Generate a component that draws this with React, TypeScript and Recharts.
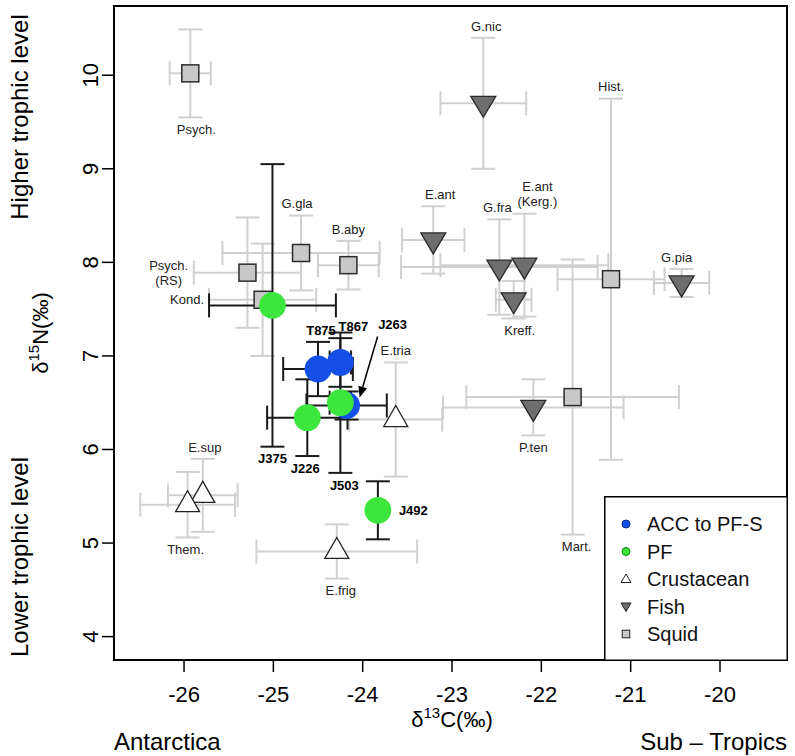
import React from "react";
import {
  ScatterChart,
  Scatter,
  XAxis,
  YAxis,
  ErrorBar,
  ReferenceArea,
  Legend,
} from "recharts";

const FONT = '"Liberation Sans", Arial, Helvetica, sans-serif';

// axis ticks
const xTicks = [-26, -25, -24, -23, -22, -21, -20];
const yTicks = [4, 5, 6, 7, 8, 9, 10];
const X_MIN = -26.784;
const X_MAX = -19.25;
const Y_MIN = 3.75;
const Y_MAX = 10.74;

// squid (mean ± error)
const squidNames = ["Psych.", "Psych.\n(RS)", "G.gla", "B.aby", "Kond.", "Hist.", "Mart."];
const squidX = [-25.93, -25.29, -24.69, -24.16, -25.12, -21.22, -21.65];
const squidY = [10.02, 7.89, 8.1, 7.97, 7.6, 7.82, 6.56];
const squidXErr = [0.23, 0.6, 0.88, 0.34, 0.6, 0.6, 1.19];
const squidYErr = [0.47, 0.59, 0.4, 0.26, 0.6, 1.93, 1.47];

// fish
const fishNames = ["G.nic", "E.ant", "G.fra", "E.ant\n(Kerg.)", "Kreff.", "G.pia", "P.ten"];
const fishX = [-22.65, -23.21, -22.47, -22.19, -22.31, -20.43, -22.09];
const fishY = [9.7, 8.24, 7.95, 7.97, 7.6, 7.78, 6.45];
const fishXErr = [0.48, 0.35, 1.1, 0.94, 0.2, 0.31, 1.01];
const fishYErr = [0.7, 0.36, 0.51, 0.55, 0.2, 0.15, 0.3];

// crustaceans
const crustNames = ["E.tria", "E.sup", "Them.", "E.frig"];
const crustX = [-23.63, -25.79, -25.96, -24.29];
const crustY = [6.32, 5.51, 5.41, 4.91];
const crustXErr = [0.52, 0.39, 0.53, 0.9];
const crustYErr = [0.61, 0.39, 0.35, 0.29];

// tracked birds, ACC to PF-S
const accNames = ["T875", "T867", "J263"];
const accX = [-24.5, -24.25, -24.18];
const accY = [6.86, 6.93, 6.47];
const accXErr = [0.39, 0.12, 0.45];
const accYErr = [0.29, 0.26, 0.15];

// tracked birds, PF
const pfNames = ["J375", "J226", "J503", "J492"];
const pfX = [-25.01, -24.62, -24.25, -23.83];
const pfY = [7.54, 6.34, 6.5, 5.35];
const pfXErr = [0.71, 0.45, 0.12, 0];
const pfYErr = [1.51, 0.41, 0.75, 0.31];

const legendNames = ["ACC to PF-S", "PF", "Crustacean", "Fish", "Squid"];

type Pt = { name: string; x: number; y: number; xe: number; ye: number };

const build = (names: string[], xs: number[], ys: number[], xes: number[], yes: number[]): Pt[] =>
  names.map((name, i) => ({ name, x: xs[i], y: ys[i], xe: xes[i], ye: yes[i] }));

const squid = build(squidNames, squidX, squidY, squidXErr, squidYErr);
const fish = build(fishNames, fishX, fishY, fishXErr, fishYErr);
const crust = build(crustNames, crustX, crustY, crustXErr, crustYErr);
const acc = build(accNames, accX, accY, accXErr, accYErr);
const pf = build(pfNames, pfX, pfY, pfXErr, pfYErr);

const BLUE = "#1450e8";
const GREEN = "#3ce63c";
const SQUID_FILL = "#c8c8c8";
const FISH_FILL = "#6e6e6e";
const BAR_GRAY = "#d0d0d0";
const BAR_DARK = "#1a1a1a";

// where each label sits relative to its error bar ends
type Side = "top" | "bottom" | "left" | "right" | "arrow";
const labelLayout: Record<string, { side: Side; dx?: number }> = {
  "Psych.": { side: "bottom", dx: 6 },
  "Psych.\n(RS)": { side: "left" },
  "G.gla": { side: "top", dx: -4 },
  "B.aby": { side: "top" },
  "Kond.": { side: "left" },
  "Hist.": { side: "top" },
  "Mart.": { side: "bottom", dx: 4 },
  "G.nic": { side: "top", dx: 3 },
  "E.ant": { side: "top", dx: 7 },
  "G.fra": { side: "top", dx: -2 },
  "E.ant\n(Kerg.)": { side: "top", dx: 13 },
  "Kreff.": { side: "bottom", dx: 6 },
  "G.pia": { side: "top", dx: -5 },
  "P.ten": { side: "bottom" },
  "E.tria": { side: "top" },
  "E.sup": { side: "top", dx: 2 },
  "Them.": { side: "bottom", dx: -2 },
  "E.frig": { side: "bottom", dx: 4 },
  T875: { side: "top", dx: 3 },
  T867: { side: "top", dx: 13 },
  J263: { side: "arrow" },
  J375: { side: "bottom" },
  J226: { side: "bottom", dx: -2 },
  J503: { side: "bottom", dx: 4 },
  J492: { side: "right" },
};

const labelData = [
  ...[...squid, ...fish, ...crust].map((p) => ({ ...p, bold: false })),
  ...[...acc, ...pf].map((p) => ({ ...p, bold: true })),
].map((p) => {
  const l = labelLayout[p.name];
  const x = l.side === "left" ? p.x - p.xe : l.side === "right" ? p.x + p.xe : p.x;
  const y = l.side === "top" ? p.y + p.ye : l.side === "bottom" ? p.y - p.ye : p.y;
  return { ...p, x, y, side: l.side, dx: l.dx ?? 0 };
});

const Square = ({ cx, cy }: any) => (
  <rect x={cx - 8.5} y={cy - 8.5} width={17} height={17} fill={SQUID_FILL} stroke="#2a2a2a" strokeWidth={1.5} />
);

const FishTri = ({ cx, cy }: any) => (
  <polygon
    points={`${cx - 12.5},${cy - 7} ${cx + 12.5},${cy - 7} ${cx},${cy + 14}`}
    fill={FISH_FILL}
    stroke="#2a2a2a"
    strokeWidth={1.3}
  />
);

const CrustTri = ({ cx, cy }: any) => (
  <polygon
    points={`${cx - 12},${cy + 7} ${cx + 12},${cy + 7} ${cx},${cy - 14}`}
    fill="#fff"
    stroke="#222"
    strokeWidth={1.3}
  />
);

const Dot = (color: string) => ({ cx, cy }: any) => <circle cx={cx} cy={cy} r={13.4} fill={color} />;

const Empty = () => <g />;

function PointLabel({ cx, cy, payload }: any) {
  const lines: string[] = payload.name.split("\n");
  const lh = 15;
  const style = {
    fontFamily: FONT,
    fontSize: 13,
    fill: payload.bold ? "#000" : "#222",
    fontWeight: payload.bold ? "bold" : "normal",
  } as const;
  const x = cx + payload.dx;
  if (payload.side === "arrow") {
    const x1 = cx + 31, y1 = cy - 69, x2 = cx + 13, y2 = cy - 8;
    const len = Math.hypot(x2 - x1, y2 - y1);
    const ux = (x2 - x1) / len, uy = (y2 - y1) / len;
    const bx = x2 - ux * 11, by = y2 - uy * 11;
    return (
      <g>
        <text x={cx + 46} y={cy - 77} textAnchor="middle" {...style}>{lines[0]}</text>
        <line x1={x1} y1={y1} x2={bx} y2={by} stroke="#000" strokeWidth={1.5} />
        <polygon
          points={`${x2},${y2} ${bx - uy * 4.5},${by + ux * 4.5} ${bx + uy * 4.5},${by - ux * 4.5}`}
          fill="#000"
        />
      </g>
    );
  }
  if (payload.side === "right") {
    return <text x={x + 21} y={cy + 4.7} textAnchor="start" {...style}>{lines[0]}</text>;
  }
  if (payload.side === "left") {
    const w = Math.max(...lines.map((s) => s.length)) * 6.4;
    return (
      <text x={x - 6 - w / 2} y={cy} textAnchor="middle" {...style}>
        {lines.map((s, i) => (
          <tspan key={i} x={x - 6 - w / 2} y={cy + 4.7 + (i - (lines.length - 1) / 2) * lh}>{s}</tspan>
        ))}
      </text>
    );
  }
  const base = payload.side === "top" ? cy - 7.3 - (lines.length - 1) * lh : cy + 16.7;
  return (
    <text x={x} y={base} textAnchor="middle" {...style}>
      {lines.map((s, i) => (
        <tspan key={i} x={x} y={base + i * lh}>{s}</tspan>
      ))}
    </text>
  );
}

const XTick = ({ x, y, payload }: any) => (
  <text x={x} y={y + 30} textAnchor="middle" fontFamily={FONT} fontSize={22} fill="#000">
    {payload.value}
  </text>
);

const YTick = ({ x, y, payload }: any) => {
  const bx = x - 4;
  return (
    <text x={bx} y={y} transform={`rotate(-90 ${bx} ${y})`} textAnchor="middle" fontFamily={FONT} fontSize={22} fill="#000">
      {payload.value}
    </text>
  );
};

const legendSymbols = [
  <circle cx={0} cy={0} r={4} fill={BLUE} stroke="#0a2a8a" strokeWidth={1} />,
  <circle cx={0} cy={0} r={4} fill={GREEN} stroke="#138a13" strokeWidth={1} />,
  <polygon points="-5,3.5 5,3.5 0,-5" fill="#fff" stroke="#222" strokeWidth={1} />,
  <polygon points="-5,-3.5 5,-3.5 0,5" fill={FISH_FILL} stroke="#222" strokeWidth={1} />,
  <rect x={-3.8} y={-3.8} width={7.6} height={7.6} fill={SQUID_FILL} stroke="#222" strokeWidth={1} />,
];

const renderLegend = () => (
  <svg width={184} height={165} style={{ display: "block" }}>
    <rect x={0.75} y={0.75} width={182.5} height={163.5} fill="#fff" stroke="#000" strokeWidth={1.5} />
    {legendNames.map((n, i) => (
      <g key={n}>
        <g transform={`translate(22 ${28 + i * 27.5})`}>{legendSymbols[i]}</g>
        <text x={43} y={28 + i * 27.5 + 7} fontFamily={FONT} fontSize={20} fill="#111">
          {n}
        </text>
      </g>
    ))}
  </svg>
);

export default function App() {
  const axisText = { fontFamily: FONT, fill: "#000" } as const;
  return (
    <div style={{ position: "absolute", left: 0, top: 0, background: "#fff" }}>
      <ScatterChart width={795} height={756} margin={{ top: 6, right: 8, bottom: 0, left: 0 }}>
        <XAxis
          type="number"
          dataKey="x"
          domain={[X_MIN, X_MAX]}
          ticks={xTicks}
          interval={0}
          allowDataOverflow
          axisLine={false}
          tickLine={{ stroke: "#000", strokeWidth: 1.5 }}
          tickSize={12}
          tickMargin={0}
          height={96}
          tick={<XTick />}
        />
        <YAxis
          type="number"
          dataKey="y"
          domain={[Y_MIN, Y_MAX]}
          ticks={yTicks}
          interval={0}
          allowDataOverflow
          axisLine={false}
          tickLine={{ stroke: "#000", strokeWidth: 1.5 }}
          tickSize={12}
          tickMargin={0}
          width={114}
          tick={<YTick />}
        />
        <ReferenceArea x1={X_MIN} x2={X_MAX} y1={Y_MIN} y2={Y_MAX} fill="none" stroke="#000" strokeWidth={2} fillOpacity={0} />

        {/* gray error bars of prey groups */}
        {[squid, fish, crust].map((d, i) => (
          <Scatter key={`bars-${i}`} data={d} shape={Empty} isAnimationActive={false}>
            <ErrorBar dataKey="xe" direction="x" width={12} stroke={BAR_GRAY} strokeWidth={2} />
            <ErrorBar dataKey="ye" direction="y" width={12} stroke={BAR_GRAY} strokeWidth={2} />
          </Scatter>
        ))}
        <Scatter data={squid} shape={Square} isAnimationActive={false} />
        <Scatter data={crust} shape={CrustTri} isAnimationActive={false} />
        <Scatter data={fish} shape={FishTri} isAnimationActive={false} />

        {/* black error bars of tracked birds */}
        {[acc, pf].map((d, i) => (
          <Scatter key={`birdbars-${i}`} data={d} shape={Empty} isAnimationActive={false}>
            <ErrorBar dataKey="xe" direction="x" width={12} stroke={BAR_DARK} strokeWidth={2} />
            <ErrorBar dataKey="ye" direction="y" width={12} stroke={BAR_DARK} strokeWidth={2} />
          </Scatter>
        ))}
        <Scatter data={acc} shape={Dot(BLUE)} isAnimationActive={false} />
        <Scatter data={pf} shape={Dot(GREEN)} isAnimationActive={false} />

        <Scatter data={labelData} shape={PointLabel} isAnimationActive={false} />

        <Legend
          layout="vertical"
          align="center"
          verticalAlign="middle"
          content={renderLegend}
          wrapperStyle={{ position: "absolute", left: 604, top: 496, width: 184, height: 165 }}
        />

        <g>
          <text x={452} y={727} textAnchor="middle" fontSize={22} {...axisText}>
            <tspan>δ</tspan>
            <tspan dy={-9} fontSize={15}>13</tspan>
            <tspan dy={9}>C(‰)</tspan>
          </text>
          <text x={114} y={750} fontSize={24} {...axisText}>Antarctica</text>
          <text x={787} y={750} textAnchor="end" fontSize={24} {...axisText}>Sub – Tropics</text>
          <text x={48} y={333} transform="rotate(-90 48 333)" textAnchor="middle" fontSize={22} {...axisText}>
            <tspan>δ</tspan>
            <tspan dy={-9} fontSize={15}>15</tspan>
            <tspan dy={9}>N(‰)</tspan>
          </text>
          <text x={28} y={117} transform="rotate(-90 28 117)" textAnchor="middle" fontSize={24} {...axisText}>
            Higher trophic level
          </text>
          <text x={28} y={557} transform="rotate(-90 28 557)" textAnchor="middle" fontSize={24} {...axisText}>
            Lower trophic level
          </text>
        </g>
      </ScatterChart>
    </div>
  );
}
